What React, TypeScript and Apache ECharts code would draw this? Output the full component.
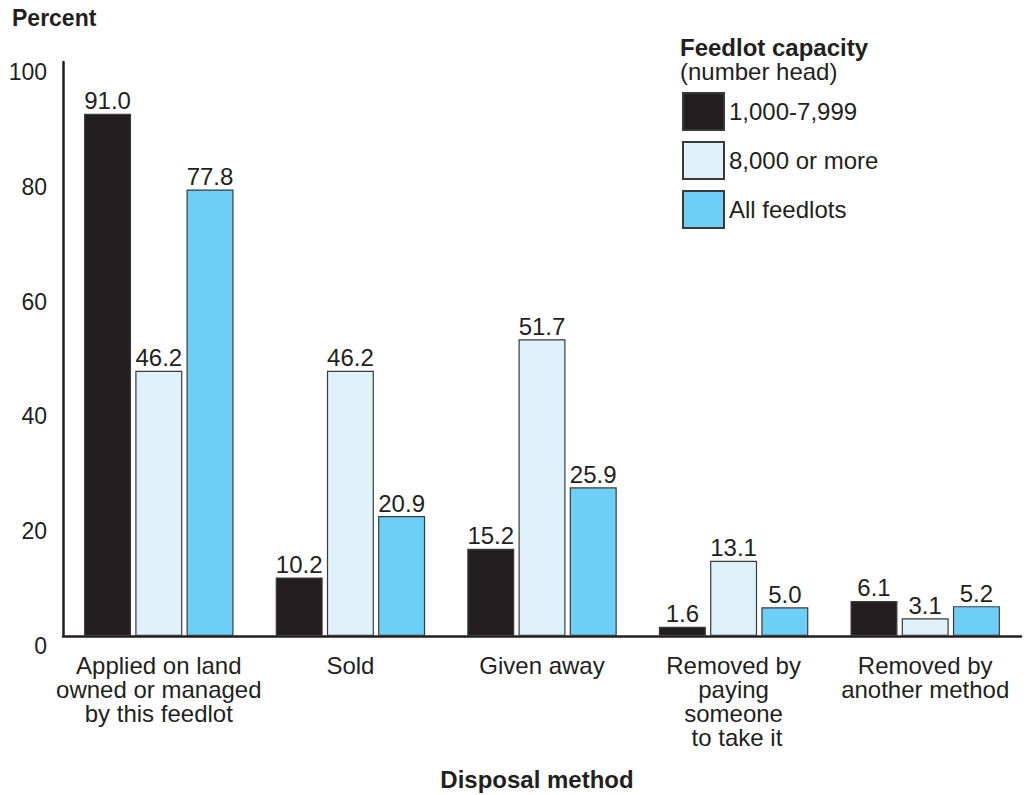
import React, { useEffect, useRef } from "react";
import * as echarts from "echarts";

const categories = [
  "Applied on land\nowned or managed\nby this feedlot",
  "Sold",
  "Given away",
  "Removed by\npaying\nsomeone\n to take it",
  "Removed by\nanother method",
];
const seriesNames = ["1,000-7,999", "8,000 or more", "All feedlots"];
const small = [91.0, 10.2, 15.2, 1.6, 6.1];
const large = [46.2, 46.2, 51.7, 13.1, 3.1];
const all = [77.8, 20.9, 25.9, 5.0, 5.2];
const yTicks = [0, 20, 40, 60, 80, 100];

const FONT = "'Liberation Sans', Arial, Helvetica, sans-serif";
const INK = "#231f20";
const colors = ["#231f20", "#dff1fb", "#6dcff6"];

export default function App() {
  const ref = useRef<HTMLDivElement>(null);
  useEffect(() => {
    if (!ref.current) return;
    const chart = echarts.init(ref.current, null, { renderer: "svg" });
    const mk = (name: string, data: number[], i: number) => ({
      name,
      type: "bar",
      data,
      barWidth: 47,
      barGap: "9%",
      itemStyle: { color: colors[i], borderColor: "#3a3a3a", borderWidth: 1.2 },
      label: {
        show: true,
        position: "top",
        distance: 1,
        fontFamily: FONT,
        fontSize: 24,
        color: INK,
        formatter: (p: any) => Number(p.value).toFixed(1),
      },
    });
    chart.setOption({
      animation: false,
      grid: { left: 63, right: 8, top: 62, bottom: 159, containLabel: false },
      legend: {
        left: 682,
        top: 92,
        padding: 0,
        orient: "vertical",
        itemWidth: 41,
        itemHeight: 37,
        itemGap: 10,
        icon: "rect",
        data: seriesNames,
        textStyle: { fontFamily: FONT, fontSize: 24, color: INK },
      },
      graphic: [
        {
          type: "text",
          x: 12,
          y: 18,
          style: { text: "Percent", font: `bold 23px ${FONT}`, fill: INK, verticalAlign: "middle" },
        },
        {
          type: "text",
          x: 680,
          y: 47,
          style: { text: "Feedlot capacity", font: `bold 24px ${FONT}`, fill: INK, verticalAlign: "middle", lineHeight: 22 },
        },
        {
          type: "text",
          x: 680,
          y: 71,
          style: { text: "(number head)", font: `24px ${FONT}`, fill: INK, verticalAlign: "middle", lineHeight: 22 },
        },
        {
          type: "text",
          x: 537,
          y: 779,
          style: {
            text: "Disposal method",
            font: `bold 24px ${FONT}`,
            fill: INK,
            align: "center",
            verticalAlign: "middle",
          },
        },
      ],
      xAxis: {
        type: "category",
        data: categories,
        axisLine: { lineStyle: { color: INK, width: 2.5 } },
        axisTick: { show: false },
        axisLabel: {
          interval: 0,
          fontFamily: FONT,
          fontSize: 24,
          lineHeight: 24,
          color: INK,
          margin: 17,
        },
      },
      yAxis: {
        type: "value",
        min: 0,
        max: 100,
        interval: 20,
        splitLine: { show: false },
        axisTick: { show: false },
        axisLine: { show: true, lineStyle: { color: INK, width: 2.5 } },
        axisLabel: {
          fontFamily: FONT,
          fontSize: 23,
          lineHeight: 20,
          verticalAlign: "top",
          color: INK,
          margin: 16,
          formatter: (v: number) => (yTicks.includes(v) ? String(v) : ""),
        },
      },
      series: [mk(seriesNames[0], small, 0), mk(seriesNames[1], large, 1), mk(seriesNames[2], all, 2)],
    });
    return () => chart.dispose();
  }, []);
  return (
    <div
      ref={ref}
      style={{ position: "absolute", left: 0, top: 0, width: 1029, height: 795, background: "#fff" }}
    />
  );
}
